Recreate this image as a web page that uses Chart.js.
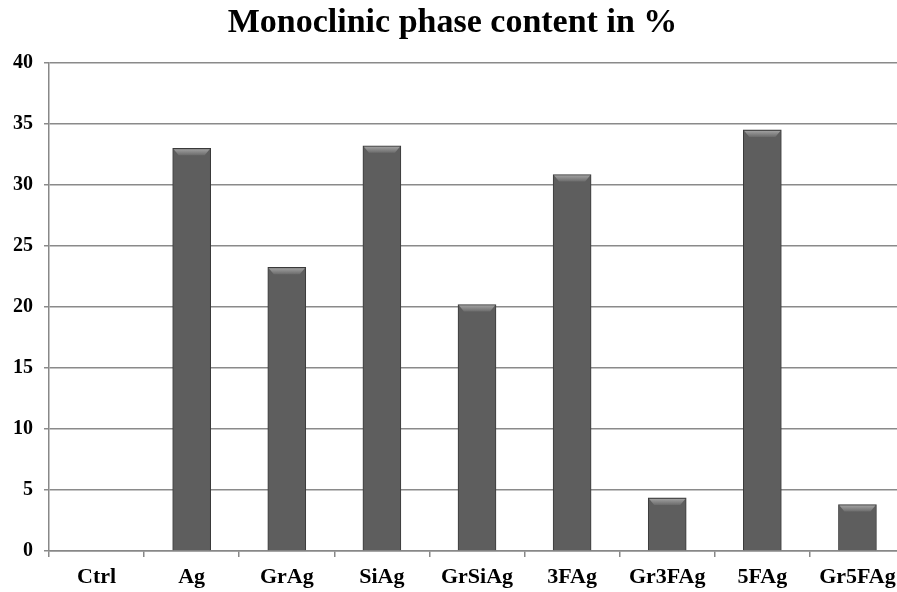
<!DOCTYPE html>
<html>
<head>
<meta charset="utf-8">
<script src="https://cdn.jsdelivr.net/npm/chart.js@4/dist/chart.umd.min.js"></script>
<style>
  html, body { margin: 0; padding: 0; background: #fff; overflow: hidden; }
  #wrap { width: 905px; height: 592px; }
</style>
</head>
<body>
<div id="wrap"><canvas id="phase-chart"></canvas></div>
<script>
const categories = ['Ctrl', 'Ag', 'GrAg', 'SiAg', 'GrSiAg', '3FAg', 'Gr3FAg', '5FAg', 'Gr5FAg'];
const monoclinic = [0, 33.0, 23.25, 33.2, 20.2, 30.85, 4.35, 34.5, 3.8];
const yTicks = [0, 5, 10, 15, 20, 25, 30, 35, 40];

const serif = "'Liberation Serif', 'Times New Roman', serif";

// side-shaded fill like the office-style bars
const barFill = (ctx) => {
  const el = ctx.element;
  if (!el || el.width === undefined) return '#5e5e5e';
  const left = el.x - el.width / 2;
  const g = ctx.chart.ctx.createLinearGradient(left, 0, left + el.width, 0);
  g.addColorStop(0, '#484848');
  g.addColorStop(0.12, '#5e5e5e');
  g.addColorStop(0.5, '#676767');
  g.addColorStop(0.88, '#5e5e5e');
  g.addColorStop(1, '#454545');
  return g;
};

// light bevel on top of each bar
const bevel = {
  id: 'bevel',
  afterDatasetsDraw(chart) {
    const c = chart.ctx;
    chart.getDatasetMeta(0).data.forEach((bar, i) => {
      if (!monoclinic[i]) return;
      const l = bar.x - bar.width / 2, r = bar.x + bar.width / 2, t = bar.y;
      const g = c.createLinearGradient(0, t, 0, t + 7);
      g.addColorStop(0, '#a8a8a8');
      g.addColorStop(1, '#6c6c6c');
      c.save();
      c.fillStyle = g;
      c.beginPath();
      c.moveTo(l + 1, t + 1);
      c.lineTo(r - 1, t + 1);
      c.lineTo(r - 6, t + 7);
      c.lineTo(l + 6, t + 7);
      c.closePath();
      c.fill();
      c.restore();
    });
  }
};

const options = {
  type: 'bar',
  data: {
    labels: categories,
    datasets: [{
      data: monoclinic,
      backgroundColor: barFill,
      borderColor: '#3a3a3a',
      borderWidth: 1,
      borderSkipped: 'bottom',
      barThickness: 38
    }]
  },
  options: {
    responsive: true,
    maintainAspectRatio: false,
    animation: false,
    layout: { padding: { left: 0, right: 0, top: 0, bottom: 0 } },
    plugins: {
      legend: { display: false },
      tooltip: { enabled: false },
      title: {
        display: true,
        text: 'Monoclinic phase content in %',
        color: '#000',
        font: { family: serif, size: 34, weight: 'bold', lineHeight: 1.2 },
        padding: { top: 3, bottom: 19 }
      }
    },
    scales: {
      x: {
        grid: { drawOnChartArea: false, color: '#888', lineWidth: 1.5, tickLength: 6, offset: true },
        border: { color: '#888', width: 1.5 },
        ticks: { color: '#000', font: { family: serif, size: 22, weight: 'bold' }, padding: 7, maxRotation: 0 },
        afterFit: (s) => { s.height = 41; }
      },
      y: {
        min: 0,
        max: 40,
        afterBuildTicks: (s) => { s.ticks = yTicks.map(v => ({ value: v })); },
        grid: { color: '#8a8a8a', lineWidth: 1.5, tickLength: 5 },
        border: { color: '#888', width: 1.5 },
        ticks: { color: '#000', font: { family: serif, size: 20, weight: 'bold' }, padding: 11 },
        afterFit: (s) => { s.width = 49; }
      }
    }
  },
  plugins: [bevel]
};

const canvas = document.getElementById('phase-chart').getContext('2d');
new Chart(canvas, options);
</script>
</body>
</html>
